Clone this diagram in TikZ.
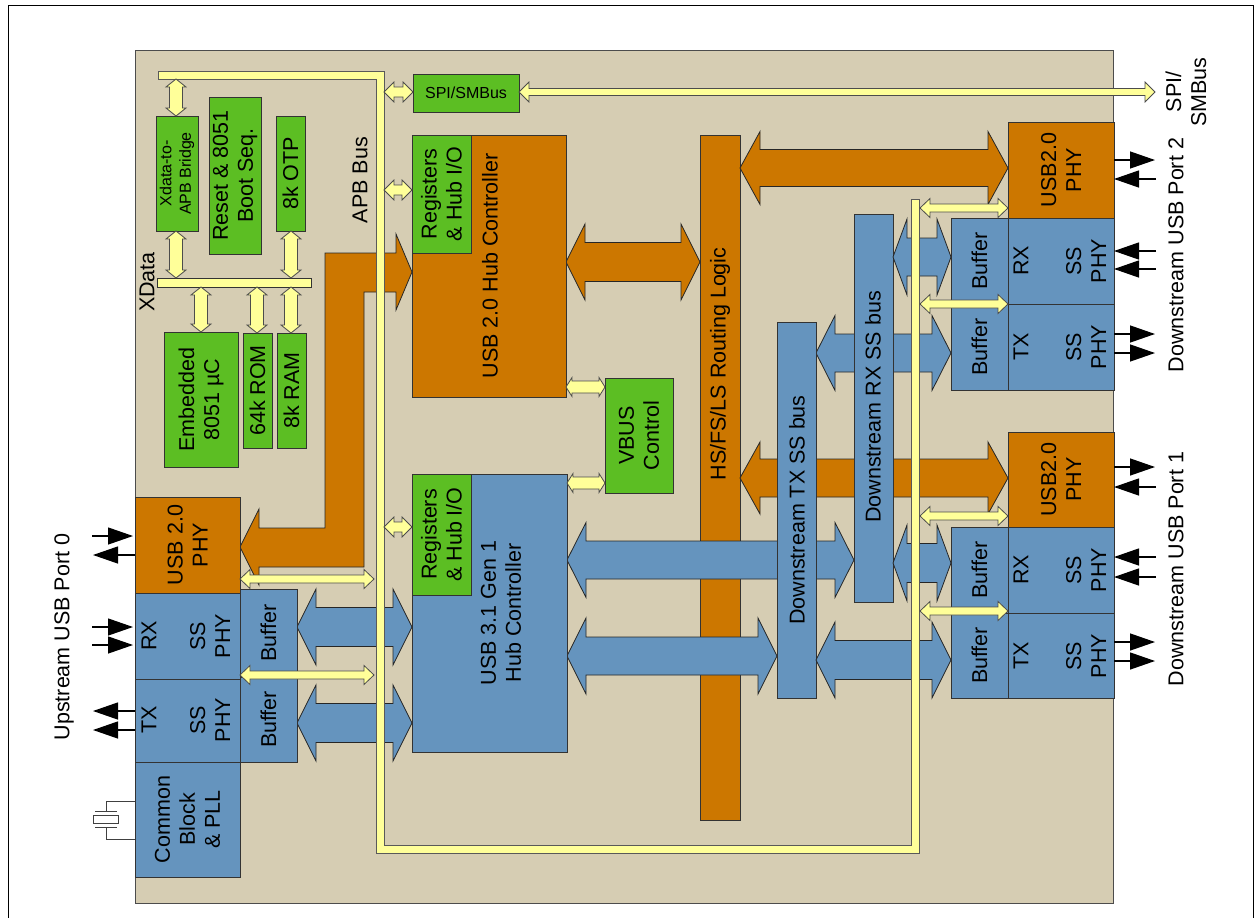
\documentclass[tikz,border=0pt]{standalone}
\usepackage{fontspec}
\setmainfont{Liberation Sans}
\usetikzlibrary{calc,arrows.meta}
\pgfdeclarelayer{chip}\pgfdeclarelayer{orng}\pgfdeclarelayer{bluea}\pgfdeclarelayer{buses}\pgfdeclarelayer{blueb}\pgfdeclarelayer{apb}
\pgfsetlayers{chip,orng,bluea,buses,blueb,apb,main}
\definecolor{cbeige}{RGB}{214,205,179}
\definecolor{corange}{RGB}{204,119,0}
\definecolor{cgreen}{RGB}{92,190,35}
\definecolor{cblue}{RGB}{101,148,190}
\definecolor{cyellow}{RGB}{255,255,153}
\newcommand{\fB}{\fontsize{21.5}{25}\selectfont}
\newcommand{\fS}{\fontsize{16}{19.5}\selectfont}
\newcommand{\bx}[6]{\node[blk,fill=#2,minimum width={#5-#3},minimum height={#6-#4}] (#1) at (#3,#4) {};}
% horizontal double block arrow: style, left end, right end, y(px), shaft half, head half, head length
\newcommand{\HDA}[7]{\draw[#1] let \p1=(#2), \p2=(#3), \p3=(0,#4) in
  (\x1,\y3) -- (\x1+#7pt,\y3+#6pt) -- (\x1+#7pt,\y3+#5pt) -- (\x2-#7pt,\y3+#5pt) -- (\x2-#7pt,\y3+#6pt)
  -- (\x2,\y3) -- (\x2-#7pt,\y3-#6pt) -- (\x2-#7pt,\y3-#5pt) -- (\x1+#7pt,\y3-#5pt) -- (\x1+#7pt,\y3-#6pt) -- cycle;}
% vertical double block arrow: style, top end, bottom end, x(px), shaft half, head half, head length
\newcommand{\VDA}[7]{\draw[#1] let \p1=(#2), \p2=(#3), \p3=(#4,0) in
  (\x3,\y1) -- (\x3+#6pt,\y1-#7pt) -- (\x3+#5pt,\y1-#7pt) -- (\x3+#5pt,\y2+#7pt) -- (\x3+#6pt,\y2+#7pt)
  -- (\x3,\y2) -- (\x3-#6pt,\y2+#7pt) -- (\x3-#5pt,\y2+#7pt) -- (\x3-#5pt,\y1-#7pt) -- (\x3-#6pt,\y1-#7pt) -- cycle;}
\begin{document}
\begin{tikzpicture}[x=1pt,y=-1pt,
  blk/.style={draw=black!80, line width=0.9pt, anchor=north west, inner sep=0pt, outer sep=0pt},
  ya/.style={fill=cyellow, draw=black!70, line width=0.8pt},
  ba/.style={fill=cblue, draw=black!85, line width=0.8pt},
  oa/.style={fill=corange, draw=black!85, line width=0.8pt},
  ybus/.style={fill=cyellow, draw=black!65, line width=0.9pt},
  lB/.style={font=\fB, align=center, rotate=90, inner sep=0pt},
  lS/.style={font=\fS, align=center, rotate=90, inner sep=0pt},
  sig/.style={-{Triangle[length=25pt,width=17pt]}, line width=1.3pt, black},
  xt/.style={draw=black!75, line width=0.9pt}]
\useasboundingbox (0,0) rectangle (1259,918);
\draw[black, line width=1pt] (8,918) -- (8,5) -- (1253,5) -- (1253,918);

\begin{pgfonlayer}{chip}
\draw[fill=cbeige, draw=black!70, line width=0.9pt] (135,50) rectangle (1113,903);
\end{pgfonlayer}

% ---------- blocks ----------
\begin{pgfonlayer}{orng}
\bx{route}{corange}{700}{135}{740}{820}
\end{pgfonlayer}
\begin{pgfonlayer}{buses}
\bx{txbus}{cblue}{777}{322}{816}{698}
\bx{rxbus}{cblue}{854}{214}{893}{602}
\end{pgfonlayer}

\bx{bridge}{cgreen}{156}{116}{198}{231}
\bx{reset}{cgreen}{209}{97}{261}{254}
\bx{otp}{cgreen}{276}{116}{305}{231}
\bx{xdata}{cyellow}{157}{278}{311}{287}
\bx{emb}{cgreen}{164}{332}{238}{467}
\bx{rom}{cgreen}{243}{333}{272}{448}
\bx{ram}{cgreen}{277}{333}{306}{448}
\bx{spi}{cgreen}{413}{74}{519}{112}
\bx{hub2}{corange}{412}{135}{566}{397}
\bx{reg2}{cgreen}{412}{135}{471}{253}
\bx{hub3}{cblue}{412}{474}{567}{752}
\bx{reg3}{cgreen}{412}{474}{471}{595}
\bx{vbus}{cgreen}{605}{378}{673}{493}
\bx{p2usb}{corange}{1008}{122}{1114}{218}
\bx{p2rx}{cblue}{1008}{218}{1114}{304}
\bx{p2tx}{cblue}{1008}{304}{1114}{390}
\bx{p2bufrx}{cblue}{951}{218}{1008}{304}
\bx{p2buftx}{cblue}{951}{304}{1008}{390}
\bx{p1usb}{corange}{1008}{432}{1114}{527}
\bx{p1rx}{cblue}{1008}{527}{1114}{613}
\bx{p1tx}{cblue}{1008}{613}{1114}{698}
\bx{p1bufrx}{cblue}{951}{527}{1008}{613}
\bx{p1buftx}{cblue}{951}{613}{1008}{698}
\bx{p0usb}{corange}{135}{497}{240}{593}
\bx{p0rx}{cblue}{135}{593}{240}{679}
\bx{p0tx}{cblue}{135}{679}{240}{762}
\bx{p0com}{cblue}{135}{762}{240}{877}
\bx{p0bufrx}{cblue}{240}{589}{297}{677}
\bx{p0buftx}{cblue}{240}{677}{297}{762}

% ---------- bus coordinates ----------
\coordinate (topbar) at (158,79);
\coordinate (apbE) at (384,0);
\coordinate (apbW) at (374,0);
\coordinate (busE) at (920,0);
\coordinate (spiext) at (1155,92);

% ---------- orange paths ----------
\begin{pgfonlayer}{orng}
\draw[oa] (240,547) -- (259,509) -- (259,528) -- (325,528) -- (325,253) -- (396,253) -- (396,234)
  -- (412,272) -- (396,310) -- (396,292) -- (364,292) -- (364,567) -- (259,567) -- (259,585) -- cycle;
\HDA{oa}{hub2.east}{route.west}{262}{19.5}{38}{19}
\HDA{oa}{route.east}{p2usb.west}{168}{18.5}{36.5}{20}
\HDA{oa}{route.east}{p1usb.west}{478}{19}{36}{20}
\end{pgfonlayer}

% ---------- blue arrows (under buses) ----------
\begin{pgfonlayer}{bluea}
\HDA{ba}{p0bufrx.east}{hub3.west}{627}{19.5}{38}{19}
\HDA{ba}{p0buftx.east}{hub3.west}{723}{19.5}{38}{19}
\HDA{ba}{hub3.east}{rxbus.west}{560}{19}{37.5}{19}
\HDA{ba}{hub3.east}{txbus.west}{656}{19}{38}{19}
\HDA{ba}{txbus.east}{p2buftx.west}{353}{19}{37.5}{19}
\end{pgfonlayer}
\begin{pgfonlayer}{blueb}
\HDA{ba}{rxbus.east}{p2bufrx.west}{257}{19}{38}{14}
\HDA{ba}{rxbus.east}{p1bufrx.west}{563}{19.5}{38}{14}
\HDA{ba}{txbus.east}{p1buftx.west}{660}{19.5}{38}{19}
\end{pgfonlayer}

% ---------- APB bus ----------
\begin{pgfonlayer}{apb}
\draw[ybus] (158,71) -- (384,71) -- (384,845) -- (911,845) -- (911,199) -- (919,199) -- (919,853)
  -- (376,853) -- (376,79) -- (158,79) -- cycle;
\end{pgfonlayer}

% ---------- yellow arrows ----------
\VDA{ya}{topbar}{bridge.north}{176}{6.5}{10}{8}
\VDA{ya}{bridge.south}{xdata.north}{176}{6.5}{10}{8}
\VDA{ya}{otp.south}{xdata.north}{291}{6.5}{10}{8}
\VDA{ya}{xdata.south}{emb.north}{201}{6.5}{10}{8}
\VDA{ya}{xdata.south}{rom.north}{257}{6.5}{10}{8}
\VDA{ya}{xdata.south}{ram.north}{291}{6.5}{10}{8}
\HDA{ya}{apbE}{spi.west}{92}{5}{10}{10}
\HDA{ya}{apbE}{reg2.west}{190}{5}{10}{10}
\HDA{ya}{apbE}{reg3.west}{527}{5}{10}{10}
\HDA{ya}{hub2.east}{vbus.west}{387}{6}{9.5}{6}
\HDA{ya}{hub3.east}{vbus.west}{483}{6}{9.5}{6}
\HDA{ya}{spi.east}{spiext}{92}{3.5}{10}{10}
\HDA{ya}{p0usb.east}{apbW}{579}{4}{9.5}{10}
\HDA{ya}{p0usb.east}{apbW}{675}{4}{9.5}{10}
\HDA{ya}{busE}{p2usb.west}{208}{4}{9.5}{10}
\HDA{ya}{busE}{p2usb.west}{304}{4}{9.5}{10}
\HDA{ya}{busE}{p1usb.west}{516}{4}{9.5}{10}
\HDA{ya}{busE}{p1usb.west}{611}{4}{9.5}{10}

% ---------- labels ----------
\node[lS] (t-bridge) at (bridge.center) {Xdata-to-\\APB Bridge};
\node[lB] (t-reset) at (reset.center) {Reset \& 8051\\Boot Seq.};
\node[lB] (t-otp) at (otp.center) {8k OTP};
\node[lB] (t-xdata) at (147,282) {XData};
\node[lB] (t-apb) at (360,180) {APB Bus};
\node[lB] (t-emb) at (emb.center) {Embedded\\8051 µC};
\node[lB] (t-rom) at (rom.center) {64k ROM};
\node[lB] (t-ram) at (ram.center) {8k RAM};
\node[font=\fS, inner sep=0pt] (t-spi) at (spi.center) {SPI/SMBus};
\node[lB] (t-reg2) at (reg2.center) {Registers\\\& Hub I/O};
\node[lB] (t-hub2) at (490,266) {USB 2.0 Hub Controller};
\node[lB] (t-reg3) at (reg3.center) {Registers\\\& Hub I/O};
\node[lB] (t-hub3) at (501,613) {USB 3.1 Gen 1\\Hub Controller};
\node[lB] (t-vbus) at (vbus.center) {VBUS\\Control};
\node[lB] (t-route) at (720,364) {HS/FS/LS Routing Logic};
\node[lB] (t-tx) at (797,510) {Downstream TX SS bus};
\node[lB] (t-rx) at (873,407) {Downstream RX SS bus};
% port 2
\node[lB] (t-p2usb) at (p2usb.center) {USB2.0\\PHY};
\node[lB] (t-p2rx) at (1021,261) {RX};
\node[lB] (t-p2rxp) at (1086,261) {SS\\PHY};
\node[lB] (t-p2tx) at (1021,347) {TX};
\node[lB] (t-p2txp) at (1086,347) {SS\\PHY};
\node[lB] (t-p2b1) at (p2bufrx.center) {Buffer};
\node[lB] (t-p2b2) at (p2buftx.center) {Buffer};
% port 1
\node[lB] (t-p1usb) at (p1usb.center) {USB2.0\\PHY};
\node[lB] (t-p1rx) at (1021,570) {RX};
\node[lB] (t-p1rxp) at (1086,570) {SS\\PHY};
\node[lB] (t-p1tx) at (1021,656) {TX};
\node[lB] (t-p1txp) at (1086,656) {SS\\PHY};
\node[lB] (t-p1b1) at (p1bufrx.center) {Buffer};
\node[lB] (t-p1b2) at (p1buftx.center) {Buffer};
% port 0
\node[lB] (t-p0usb) at (p0usb.center) {USB 2.0\\PHY};
\node[lB] (t-p0rx) at (149,636) {RX};
\node[lB] (t-p0rxp) at (210,636) {SS\\PHY};
\node[lB] (t-p0tx) at (149,720) {TX};
\node[lB] (t-p0txp) at (210,720) {SS\\PHY};
\node[lB] (t-p0b1) at (p0bufrx.center) {Buffer};
\node[lB] (t-p0b2) at (p0buftx.center) {Buffer};
\node[lB] (t-p0com) at (p0com.center) {Common\\Block\\\& PLL};
% outside
\node[lB] (t-port2) at (1176,255) {Downstream USB Port 2};
\node[lB] (t-port1) at (1176,569) {Downstream USB Port 1};
\node[lB] (t-port0) at (64,637) {Upstream USB Port 0};
\node[lB] (t-spiext) at (1186,92) {SPI/\\SMBus};

% ---------- signal arrows ----------
\draw[sig] ($(p2usb.east)+(0,-10)$) -- ++(41,0);
\draw[sig] ($(p2usb.east)+(42,9)$) -- ++(-42,0);
\draw[sig] ($(p2rx.east)+(42,-10)$) -- ++(-42,0);
\draw[sig] ($(p2rx.east)+(42,8)$) -- ++(-42,0);
\draw[sig] ($(p2tx.east)+(0,-13)$) -- ++(41,0);
\draw[sig] ($(p2tx.east)+(0,6)$) -- ++(41,0);
\draw[sig] ($(p1usb.east)+(0,-12.5)$) -- ++(41,0);
\draw[sig] ($(p1usb.east)+(42,7.5)$) -- ++(-42,0);
\draw[sig] ($(p1rx.east)+(42,-13)$) -- ++(-42,0);
\draw[sig] ($(p1rx.east)+(42,7)$) -- ++(-42,0);
\draw[sig] ($(p1tx.east)+(0,-13.5)$) -- ++(41,0);
\draw[sig] ($(p1tx.east)+(0,5.5)$) -- ++(41,0);
\draw[sig] ($(p0usb.west)+(-43,-9)$) -- ++(41,0);
\draw[sig] ($(p0usb.west)+(0,10)$) -- ++(-42,0);
\draw[sig] ($(p0rx.west)+(-43,-9)$) -- ++(41,0);
\draw[sig] ($(p0rx.west)+(-43,9)$) -- ++(41,0);
\draw[sig] ($(p0tx.west)+(0,-9.5)$) -- ++(-42,0);
\draw[sig] ($(p0tx.west)+(0,9.5)$) -- ++(-42,0);

% ---------- crystal ----------
\draw[xt] (135,801) -- (106,801) -- (106,811);
\draw[xt] (95,811) -- (117,811);
\draw[xt, fill=white] (93,815) rectangle (118,823);
\draw[xt] (95,827.5) -- (117,827.5);
\draw[xt] (106,827.5) -- (106,839) -- (135,839);
\end{tikzpicture}
\end{document}
